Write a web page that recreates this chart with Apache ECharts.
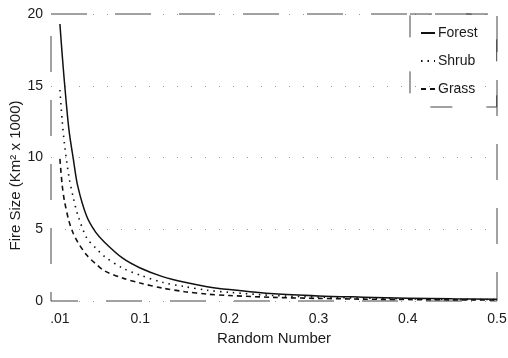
<!DOCTYPE html>
<html>
<head>
<meta charset="utf-8">
<script src="https://cdn.jsdelivr.net/npm/echarts@6/dist/echarts.min.js"></script>
<style>
  html, body { margin: 0; padding: 0; background: #fff; }
  #chart { width: 508px; height: 358px; }
</style>
</head>
<body>
<div id="chart"></div>
<script>
// random number (x) values where the curves were sampled
const randomNumber = [0.01, 0.0125, 0.015, 0.02, 0.025, 0.03, 0.04, 0.05, 0.06, 0.08, 0.1,
  0.125, 0.15, 0.175, 0.2, 0.25, 0.3, 0.35, 0.4, 0.45, 0.5];

// fire size, km^2 x 1000
const forest = [19.3, 17.2, 15.3, 12.0, 9.9, 8.0, 5.9, 4.8, 4.1, 3.0, 2.3,
  1.7, 1.3, 1.0, 0.8, 0.5, 0.35, 0.27, 0.2, 0.15, 0.12];
const shrub = [14.7, 12.6, 11.0, 8.7, 7.2, 6.0, 4.4, 3.7, 3.1, 2.3, 1.8,
  1.3, 1.0, 0.75, 0.6, 0.38, 0.27, 0.2, 0.15, 0.12, 0.1];
const grass = [9.9, 8.1, 7.0, 5.6, 4.7, 4.1, 3.2, 2.6, 2.1, 1.6, 1.25,
  0.9, 0.65, 0.48, 0.38, 0.25, 0.18, 0.13, 0.1, 0.08, 0.07];

const xTicks = [0.01, 0.1, 0.2, 0.3, 0.4, 0.5];

const pair = ys => randomNumber.map((x, i) => [x, ys[i]]);

const font = "'Liberation Sans', Arial, sans-serif";
const ink = '#1a1a1a';

const chart = echarts.init(document.getElementById('chart'));

chart.setOption({
  animation: false,
  textStyle: { fontFamily: font, color: ink },
  grid: {
    left: 51, right: 11, top: 14, bottom: 57,
    outerBoundsMode: 'none',
    containLabel: false,
    show: true,
    borderColor: '#444',
    borderWidth: 1,
    borderType: [36, 28],
    backgroundColor: 'transparent'
  },
  legend: {
    orient: 'vertical',
    left: 410,
    top: 14,
    padding: [12, 19, 11, 10],
    itemWidth: 14,
    itemHeight: 13,
    itemGap: 14,
    itemStyle: { opacity: 0 },
    borderColor: '#444',
    borderWidth: 1,
    borderType: [22, 34],
    textStyle: { fontFamily: font, fontSize: 14, color: ink, padding: [0, 0, 0, -2] },
    data: ['Forest', 'Shrub', 'Grass']
  },
  xAxis: {
    type: 'value',
    min: 0,
    max: 0.5,
    name: 'Random Number',
    nameLocation: 'middle',
    nameGap: 30,
    nameMoveOverlap: false,
    nameTextStyle: { fontSize: 15, color: ink, fontFamily: font },
    axisLine: { show: false },
    axisTick: { show: false },
    splitLine: { show: false },
    axisLabel: {
      customValues: xTicks,
      fontSize: 14,
      color: ink,
      margin: 11,
      formatter: v => (v === 0.01 ? '.01' : v.toFixed(1))
    }
  },
  yAxis: {
    type: 'value',
    min: 0,
    max: 20,
    interval: 5,
    name: 'Fire Size (Km\u00b2 x 1000)',
    nameLocation: 'middle',
    nameGap: 28,
    nameMoveOverlap: false,
    nameTextStyle: { fontSize: 15, color: ink, fontFamily: font, padding: [0, 36, 0, 0] },
    axisLine: { show: false },
    axisTick: { show: false },
    axisLabel: { fontSize: 14, color: ink, margin: 8 },
    splitLine: { show: true, lineStyle: { color: '#999', type: [1, 13], width: 1 } }
  },
  series: [
    {
      name: 'Forest',
      type: 'line',
      smooth: 0.3,
      symbol: 'none',
      data: pair(forest),
      lineStyle: { color: '#111', width: 1.5, type: 'solid' },
      itemStyle: { color: '#111' }
    },
    {
      name: 'Shrub',
      type: 'line',
      smooth: 0.3,
      symbol: 'none',
      data: pair(shrub),
      lineStyle: { color: '#111', width: 1.6, type: [1.5, 5] },
      itemStyle: { color: '#111' }
    },
    {
      name: 'Grass',
      type: 'line',
      smooth: 0.3,
      symbol: 'none',
      data: pair(grass),
      lineStyle: { color: '#111', width: 1.6, type: [5, 4] },
      itemStyle: { color: '#111' }
    }
  ]
});
</script>
</body>
</html>
